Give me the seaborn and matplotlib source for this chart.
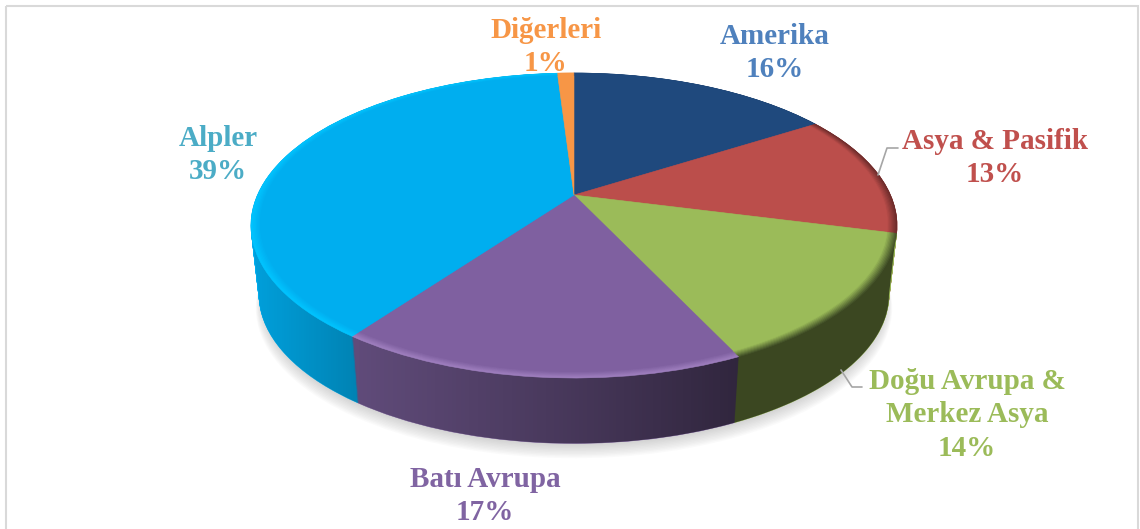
import numpy as np
import matplotlib
matplotlib.use("Agg")
import matplotlib.pyplot as plt
import seaborn as sns
from matplotlib.patches import Polygon, Rectangle
from matplotlib.transforms import Transform

# Daten
labels = ["Amerika", "Asya & Pasifik", "Doğu Avrupa &\nMerkez Asya", "Batı Avrupa", "Alpler", "Diğerleri"]
values = [16, 13, 14, 17, 39, 1]

# Farben
face_colors = ["#1f497d", "#bb4e4b", "#9bbb59", "#7f60a0", "#00aeef", "#f79646"]
side_colors = ["#1f497d", "#c0504d", "#9bbb59", "#8064a2", "#00aeef", "#f79646"]
rim_colors = ["#1f497d", "#6e2c2b", "#46552a", "#a080c0", "#00c4ff", "#f79646"]
text_colors = ["#4f81bd", "#c0504d", "#9bbb59", "#8064a2", "#4bacc6", "#f79646"]

# Beschriftungen (Pixel)
label_x = [775, 995, 967, 485, 218, 546]
label_y = [53, 158, 415, 496, 155, 47]

# Perspektive der Scheibe (Pixel)
cx, cy = 574, 195
persp = 0.2
sx, sy = 316.5, 146.4
depth = 70


class Tilt(Transform):
    # Einheitskreis -> perspektivische Ellipse
    input_dims = output_dims = 2

    def __init__(self, scale=1.0, drop=0.0):
        super().__init__()
        self.scale = scale
        self.drop = drop

    def transform_non_affine(self, values):
        v = np.asarray(values, dtype=float)
        w = 1 + persp * v[:, 1]
        return np.column_stack([
            cx + self.scale * sx * v[:, 0] / w,
            cy + self.drop - self.scale * sy * v[:, 1] / w,
        ])


sns.set_style("white")
plt.rcParams['font.family'] = ['Liberation Serif', 'DejaVu Serif']

fig = plt.figure(figsize=(11.4, 5.29), dpi=100)
ax = fig.add_axes([0, 0, 1, 1])


def draw_pie(colors, radius=1.0, scale=1.0, drop=0.0, zorder=1, alpha=None):
    wedges, _ = ax.pie(values, colors=colors, radius=radius, startangle=90, counterclock=False,
                       wedgeprops=dict(alpha=alpha))
    t = Tilt(scale, drop) + ax.transData
    for w in wedges:
        w.set_transform(t)
        w.set_zorder(zorder)
        w.set_clip_on(False)
        if alpha is None:
            w.set_edgecolor(w.get_facecolor())
            w.set_linewidth(0.4)
        else:
            w.set_linewidth(0)


# Schatten
for i in range(10):
    draw_pie(["#808080"] * len(values), radius=1.0 - 0.002 * i, scale=0.985, drop=depth + 13 - i, zorder=0.5, alpha=0.035)

# Seitenwand
for step in np.linspace(1, 0, 72):
    draw_pie(side_colors, scale=1 - 0.025 * step, drop=depth * step, zorder=1)

# Abdunkeln der Seitenwand von links nach rechts
ramp_x = np.arange(240, 910)
ramp_alpha = np.interp(ramp_x, [250, 357, 574, 735, 900], [0.08, 0.25, 0.45, 0.62, 0.62])
ramp = np.zeros((1, len(ramp_x), 4))
ramp[0, :, 3] = ramp_alpha
im = ax.imshow(ramp, extent=[240, 910, 460, 60], aspect='auto', zorder=2, interpolation='bilinear')

theta = np.linspace(0, 2 * np.pi, 400)
circle = np.column_stack([np.cos(theta), np.sin(theta)])
upper = circle[circle[:, 1] > -persp]
lower = circle[circle[:, 1] <= -persp]
top_edge = Tilt().transform_non_affine(upper)
bottom_edge = Tilt(0.975, depth).transform_non_affine(lower)
outline = np.vstack([top_edge, bottom_edge])
outline = outline[np.argsort(np.arctan2(outline[:, 1] - (cy + depth / 2), outline[:, 0] - cx))]
clip_shape = Polygon(outline, closed=True, transform=ax.transData, facecolor='none', edgecolor='none')
ax.add_patch(clip_shape)
im.set_clip_path(clip_shape)

# Obere Fläche mit Kante
n_rim = 8
rim_ramps = [sns.blend_palette([r, f], n_rim) for r, f in zip(rim_colors, face_colors)]
for k, radius in enumerate(np.linspace(1.0, 0.972, n_rim)):
    draw_pie([p[k] for p in rim_ramps], radius=radius, zorder=3 + 0.01 * k)

# Texte
for name, value, x, y, c in zip(labels, values, label_x, label_y, text_colors):
    ax.text(x, y, f"{name}\n{value}%", color=c, fontsize=21, fontweight='bold',
            ha='center', va='center', linespacing=1.31, zorder=5)

# Führungslinien
ax.plot([878, 887, 898], [175, 148, 148], color="#a6a6a6", lw=1.2, zorder=4)
ax.plot([841, 852, 862], [370, 387, 387], color="#a6a6a6", lw=1.2, zorder=4)

# Rahmen
ax.add_patch(Rectangle((5.5, 5.5), 1132.5, 540, facecolor='none', edgecolor="#d9d9d9", lw=1.5, zorder=0))

ax.set_aspect('auto')
ax.set_xlim(0, 1140)
ax.set_ylim(529, 0)
ax.axis('off')

fig.savefig("out.png", dpi=100)
